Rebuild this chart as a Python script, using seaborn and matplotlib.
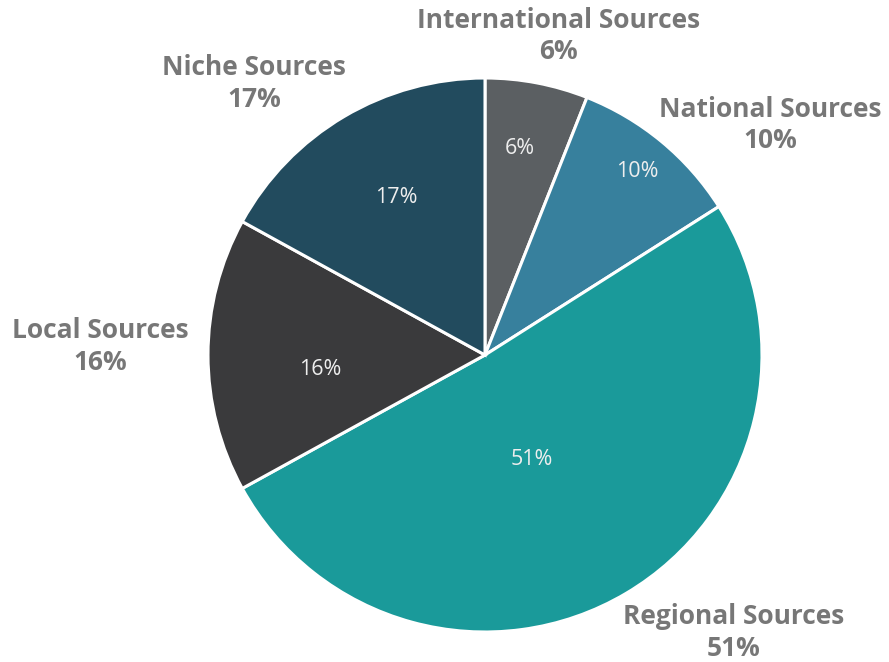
import matplotlib
matplotlib.use("Agg")
import matplotlib.pyplot as plt
import seaborn as sns
import numpy as np

categories = ["International Sources", "National Sources", "Regional Sources",
              "Local Sources", "Niche Sources"]
values = [6, 10, 51, 16, 17]
colors = ["#5b5f62", "#37809d", "#1a9a9a", "#3a3a3c", "#224b5e"]

sns.set_theme(style="white")
plt.rcParams["font.family"] = ["Open Sans", "DejaVu Sans"]

fig = plt.figure(figsize=(8.89, 6.62), dpi=100)
ax = fig.add_axes([0, 0, 1, 1])

R = 277.0
cx, cy = 485.0, 662.0 - 355.0

wedges, texts, autotexts = ax.pie(
    values, colors=colors, startangle=90, counterclock=False,
    labels=[f"{c}\n{v}%" for c, v in zip(categories, values)],
    autopct="%1.0f%%", pctdistance=0.7, labeldistance=1.05,
    wedgeprops=dict(edgecolor="white", linewidth=2.2),
    textprops=dict(fontsize=19, fontweight="bold", color="#777777"),
)

ax.set_aspect("auto")
ax.set_xlim(-cx / R, (889 - cx) / R)
ax.set_ylim(-cy / R, (662 - cy) / R)
ax.axis("off")

# outer label layout (relative to radius)
outer_pos = [(0.264, 1.151), (1.029, 0.831), (0.899, -1.002), (-1.39, 0.031), (-0.834, 0.980)]
for t, p in zip(texts, outer_pos):
    t.set_position(p)
    t.set_ha("center")
    t.set_va("center")
    t.set_multialignment("center")
    t.set_linespacing(1.22)

inner_pos = [(0.126, 0.747), (0.549, 0.661), (0.170, -0.379), (-0.596, -0.051), (-0.321, 0.567)]
for t, p in zip(autotexts, inner_pos):
    t.set_position(p)
    t.set_fontsize(15.5)
    t.set_fontweight("normal")
    t.set_color("#eeeeee")
    t.set_ha("center")
    t.set_va("center")

fig.savefig("out.png", dpi=100, facecolor="white")
